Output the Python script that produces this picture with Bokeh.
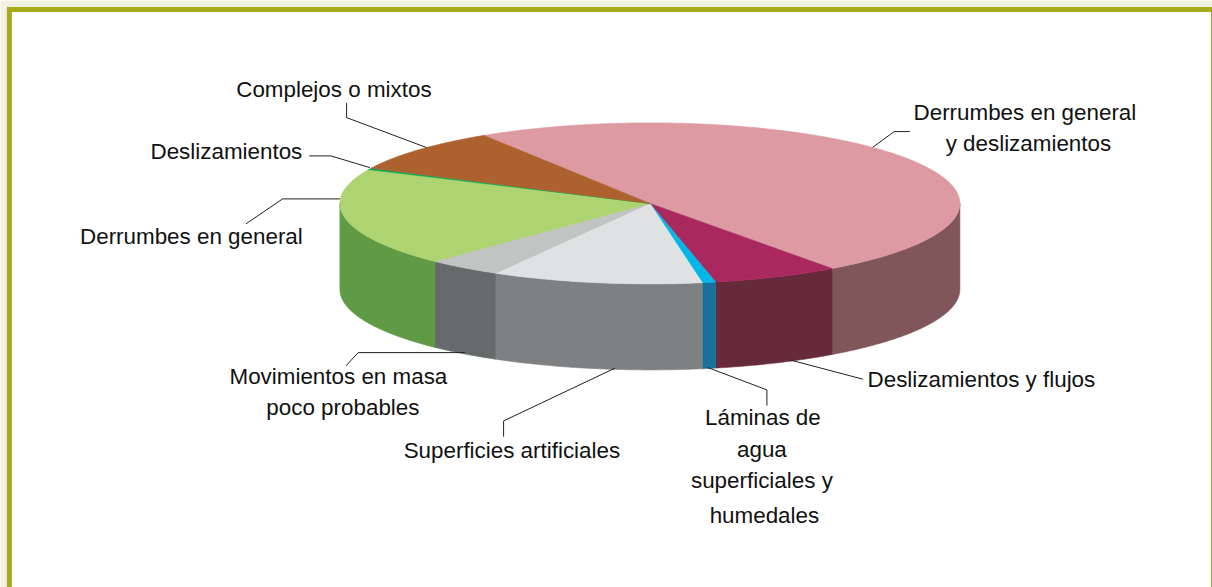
import numpy as np
from bokeh.embed import file_html
from bokeh.models import ColumnDataSource, Range1d
from bokeh.plotting import figure
from bokeh.resources import INLINE
from bokeh.core.properties import value

# ---- data (clockwise from the start angle), in percent
categories = ["Derrumbes en general y deslizamientos", "Deslizamientos y flujos",
              "Láminas de agua superficiales y humedales", "Superficies artificiales",
              "Movimientos en masa poco probables", "Derrumbes en general",
              "Deslizamientos", "Complejos o mixtos"]
shares = [49.0, 6.6, 0.7, 11.0, 3.9, 19.7, 0.3, 8.8]
top_colors = ["#DD9AA2", "#A9295F", "#00B8E8", "#E0E1E3", "#C2C3C3", "#ADD471", "#00A650", "#AD612F"]
side_colors = ["#80565B", "#662A3A", "#18709B", "#7F8082", "#666A6A", "#609A45", "#00703C", "#74401F"]

# ---- label layout (page pixels: text, centre x, middle y)
label_text = ["Complejos o mixtos", "Deslizamientos", "Derrumbes en general",
              "Movimientos en masa", "poco probables", "Superficies artificiales",
              "Láminas de", "agua", "superficiales y", "humedales",
              "Deslizamientos y flujos", "Derrumbes en general", "y deslizamientos"]
label_x = [334, 226.5, 191.5, 338.5, 343, 512, 763, 762, 762, 764.5, 981.5, 1025, 1028.5]
label_y = [90, 152, 237, 377, 408, 451, 418, 450, 481, 516, 380, 113, 144]

# ---- leader lines (page pixels)
leader_x = [[346.7, 346.7, 426.7], [309.3, 331, 370], [246, 282.7, 340], [346, 358.3, 465],
            [503.7, 503.7, 615], [708, 767, 767], [790, 863], [873, 894.3, 910]]
leader_y = [[103, 117.7, 147.7], [156, 156, 167.7], [224, 199, 199], [366, 352.7, 352.7],
            [436.7, 421, 368.3], [367.7, 390, 405.7], [360, 379.3], [147.3, 131.7, 131.7]]

# ---- pie geometry (page pixels, degrees)
CX, CY, RX, RY, DEPTH, START = 650.0, 203.5, 310.0, 80.5, 86.0, 122.4
W, H = 1212, 587


def arc(a, b):
    n = max(2, int(abs(a - b) * 2) + 1)
    t = np.radians(np.linspace(a, b, n))
    return CX + RX * np.cos(t), CY - RY * np.sin(t)


shares_arr = np.asarray(shares, dtype=float)
edges = START - np.concatenate([[0.0], np.cumsum(shares_arr)]) * 360.0 / shares_arr.sum()

top_xs, top_ys, side_xs, side_ys, side_fill = [], [], [], [], []
for i, col in enumerate(side_colors):
    a, b = edges[i], edges[i + 1]
    x, y = arc(a, b)
    top_xs.append(np.concatenate([[CX], x]).tolist())
    top_ys.append(np.concatenate([[CY], y]).tolist())
    hi, lo = min(a, 0.0), max(b, -180.0)
    if hi > lo:
        sx, sy = arc(hi, lo)
        side_xs.append(np.concatenate([sx, sx[::-1]]).tolist())
        side_ys.append(np.concatenate([sy, sy[::-1] + DEPTH]).tolist())
        side_fill.append(col)

p = figure(width=W, height=H, output_backend="svg", toolbar_location=None,
           x_range=Range1d(0.6, W + 0.6), y_range=Range1d(H + 0.6, 0.6), min_border=0)
p.axis.visible = False
p.grid.visible = False
p.outline_line_color = None
p.background_fill_color = "#F1F1E1"
p.border_fill_color = "#F1F1E1"

# page frame
p.quad(left=[7], right=[W + 2], top=[7], bottom=[H + 2], fill_color="#A5AB1D", line_color=None)
p.quad(left=[12], right=[W - 1], top=[12], bottom=[H + 2], fill_color="#FFFFFF", line_color=None)

p.patches("xs", "ys", source=ColumnDataSource(dict(xs=side_xs, ys=side_ys, c=side_fill)),
          fill_color="c", line_color="c", line_width=0.6)
p.patches("xs", "ys", source=ColumnDataSource(dict(xs=top_xs, ys=top_ys, c=top_colors)),
          fill_color="c", line_color="c", line_width=0.6)
p.multi_line(leader_x, leader_y, line_color="#231F20", line_width=1)
p.text(label_x, label_y, text=label_text, text_font=value("Liberation Sans"),
       text_font_size="22.4px", text_color="#111111", text_align="center", text_baseline="middle")

open("out.html", "w").write(file_html(p, INLINE))
